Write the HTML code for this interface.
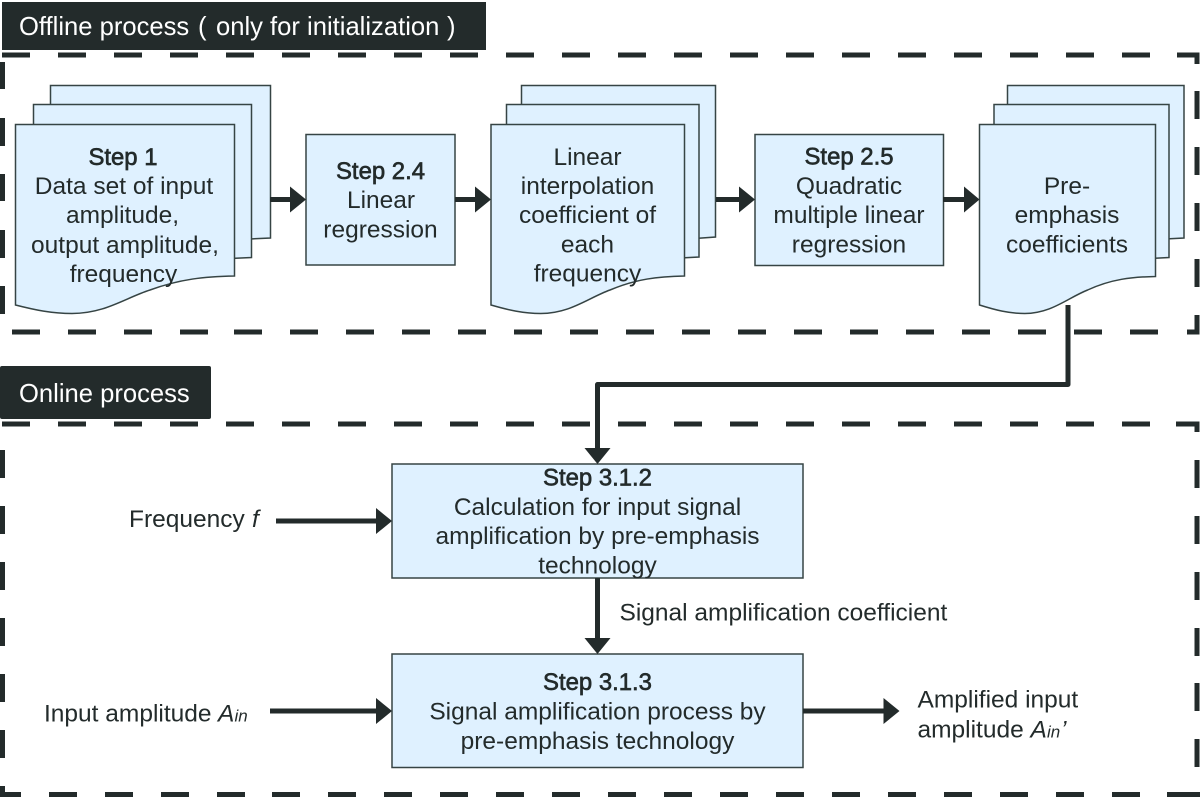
<!DOCTYPE html>
<html>
<head>
<meta charset="utf-8">
<style>
html,body{margin:0;padding:0;background:#fff;width:1200px;height:797px;overflow:hidden}
svg{display:block}
text{font-family:"Liberation Sans",sans-serif;font-size:24.5px;fill:#232b2b}
.m{text-anchor:middle}
.b{font-size:23.9px;stroke:#232b2b;stroke-width:.65px}
.w{fill:#fff;font-size:25.6px}
.i{font-style:italic}
.s{font-style:italic;font-size:17px}
.n{fill:#dff1ff;stroke:#364444;stroke-width:1.5}
.d{fill:none;stroke:#232b2b;stroke-width:5}
.l{fill:none;stroke:#232b2b;stroke-width:5}
.h{fill:#232b2b;stroke:none}
</style>
</head>
<body>
<svg width="1200" height="797" viewBox="0 0 1200 797" xmlns="http://www.w3.org/2000/svg">
<rect width="1200" height="797" fill="#fff"/>

<!-- Header bars -->
<rect x="2" y="2" width="484" height="48" fill="#232b2b"/>
<text class="w" x="19" y="35">Offline process</text>
<text class="w" x="198" y="35">(</text>
<text class="w" x="216" y="35">only for initialization</text>
<text class="w" x="447" y="35">)</text>
<rect x="0" y="366" width="211" height="53" rx="2" fill="#232b2b"/>
<text class="w" x="19" y="402">Online process</text>

<!-- Offline dashed frame -->
<path class="d" d="M2 55H30M58 55H86M114 55H142M170 55H198M226 55H254M282 55H310M338 55H366M394 55H422M450 55H478M506 55H534M562 55H590M618 55H646M674 55H702M730 55H758M786 55H814M842 55H870M898 55H926M954 55H982M1010 55H1038M1066 55H1094M1122 55H1150M1177 55H1197V64M1197 91V119M1197 147V175M1197 203V231M1197 259V287M1197 315V332H1187M1158 332H1130M1102 332H1074M1046 332H1018M990 332H962M934 332H906M878 332H850M822 332H794M766 332H738M710 332H682M654 332H626M598 332H570M542 332H514M486 332H458M430 332H402M374 332H346M318 332H290M262 332H234M208 332H180M152 332H124M96 332H68M40 332H12M2.5 314V286M2.5 258V230M2.5 201V174M2.5 146V118M2.5 89V62"/>

<!-- Online dashed frame -->
<path class="d" d="M2 424H30M58 424H86M114 424H142M170 424H198M226 424H254M282 424H310M338 424H366M394 424H422M450 424H478M506 424H534M562 424H590M618 424H646M674 424H702M730 424H758M786 424H814M842 424H870M898 424H926M954 424H982M1010 424H1038M1066 424H1094M1122 424H1150M1176 424H1197V432M1197 460V488M1197 516V544M1197 572V600M1197 628V656M1197 683V711M1197 739V767M1200 794.5H1167M1140 794.5H1112M1084 794.5H1056M1028 794.5H1000M972 794.5H944M916 794.5H888M860 794.5H832M804 794.5H776M748 794.5H720M692 794.5H664M636 794.5H608M580 794.5H552M524 794.5H496M468 794.5H440M412 794.5H384M356 794.5H328M300 794.5H272M245 794.5H217M189 794.5H161M133 794.5H105M77 794.5H49M21 794.5H2.5V786M2.5 758V730M2.5 702V674M2.5 646V618M2.5 590V562M2.5 534V506M2.5 478V450"/>

<!-- Stack 1 -->
<path class="n" d="M50.5 85.5H270.5V238L250 239H50.5Z"/>
<path class="n" d="M33.5 104.5H251.5V257.5L230 258.5H33.5Z"/>
<path class="n" d="M15.5 124.5H234.5V276C205 276.5 180 279 150 290C125 298 105 313.5 72 313.5C52 313.5 35 310 15.5 305Z"/>

<!-- Stack 2 -->
<path class="n" d="M521.5 85.5H715.5V237L695 238.5H521.5Z"/>
<path class="n" d="M506.5 104.5H699V257L680 258H506.5Z"/>
<path class="n" d="M491 124.5H684.5V276C658 276.5 636 279 610 290C588 298 570 313.5 540.7 313.5C523.3 313.5 508.3 310 491 305Z"/>

<!-- Stack 3 -->
<path class="n" d="M1007.5 85.5H1184V238L1165 239H1007.5Z"/>
<path class="n" d="M994 104.5H1169V257.5L1150 258.5H994Z"/>
<path class="n" d="M979.5 124.5H1155.5V276.5C1131.7 277 1111.5 279 1087.6 290C1067.5 298 1051.3 313.5 1024.7 313.5C1009 313.5 995.3 310 979.5 305Z"/>

<!-- Process boxes -->
<rect class="n" x="306" y="134.5" width="149" height="130.5"/>
<rect class="n" x="755" y="134.5" width="188.5" height="131"/>
<rect class="n" x="392" y="464" width="411" height="114"/>
<rect class="n" x="392" y="654" width="411" height="113.5"/>

<!-- Upper arrows -->
<path class="l" d="M270 199.5H292M455 199.5H477M716 199.5H741M943 199.5H966"/>
<path class="h" d="M290 186.5L306 199.5L290 212.5ZM475 186.5L491 199.5L475 212.5ZM739 186.5L755 199.5L739 212.5ZM964 186.5L979.5 199.5L964 212.5Z"/>

<!-- Connector between groups -->
<path class="l" d="M1068 305V384.5H597.5V450" stroke-linejoin="round"/>
<path class="h" d="M584.5 448H610.5L597.5 464Z"/>

<!-- Lower arrows -->
<path class="l" d="M597.5 578V640M276 521H378M270 711H378M803 711H886"/>
<path class="h" d="M584.5 638H610.5L597.5 654ZM376 508L392 521L376 534ZM376 698L392 711L376 724ZM883.5 698L899.5 711L883.5 724Z"/>

<!-- Stack 1 text -->
<text class="m b" x="123" y="165">Step 1</text>
<text class="m" x="124" y="194">Data set of input</text>
<text class="m" x="122.5" y="223">amplitude,</text>
<text class="m" x="125" y="253">output amplitude,</text>
<text class="m" x="123.5" y="282">frequency</text>

<!-- Step 2.4 text -->
<text class="m b" x="380.5" y="179">Step 2.4</text>
<text class="m" x="381" y="208">Linear</text>
<text class="m" x="380.5" y="237.5">regression</text>

<!-- Stack 2 text -->
<text class="m" x="587.5" y="165">Linear</text>
<text class="m" x="587.5" y="194">interpolation</text>
<text class="m" x="587.5" y="223">coefficient of</text>
<text class="m" x="587.5" y="252.5">each</text>
<text class="m" x="587.5" y="281.5">frequency</text>

<!-- Step 2.5 text -->
<text class="m b" x="849" y="164.5">Step 2.5</text>
<text class="m" x="849" y="194">Quadratic</text>
<text class="m" x="849" y="223">multiple linear</text>
<text class="m" x="849" y="252.5">regression</text>

<!-- Stack 3 text -->
<text class="m" x="1067" y="194">Pre-</text>
<text class="m" x="1067" y="223">emphasis</text>
<text class="m" x="1067" y="252.5">coefficients</text>

<!-- Step 3.1.2 text -->
<text class="m b" x="597.5" y="485.5">Step 3.1.2</text>
<text class="m" x="597.5" y="515">Calculation for input signal</text>
<text class="m" x="597.5" y="544">amplification by pre-emphasis</text>
<text class="m" x="597.5" y="573.5">technology</text>

<!-- Step 3.1.3 text -->
<text class="m b" x="597.5" y="690">Step 3.1.3</text>
<text class="m" x="597.5" y="719.5">Signal amplification process by</text>
<text class="m" x="597.5" y="749">pre-emphasis technology</text>

<!-- Free labels -->
<text x="619.5" y="620.5">Signal amplification coefficient</text>
<text x="129" y="527">Frequency</text>
<text class="i" x="252" y="527">f</text>
<text x="44" y="721.5">Input amplitude</text>
<text class="i" x="218" y="721.5">A</text>
<text class="s" x="234.5" y="721.5">in</text>
<text x="917.5" y="707.5">Amplified input</text>
<text x="917.5" y="737.5">amplitude</text>
<text class="i" x="1030.5" y="737.5">A</text>
<text class="s" x="1047" y="737.5">in</text>
<text class="i" x="1061" y="737.5">’</text>
</svg>
</body>
</html>
